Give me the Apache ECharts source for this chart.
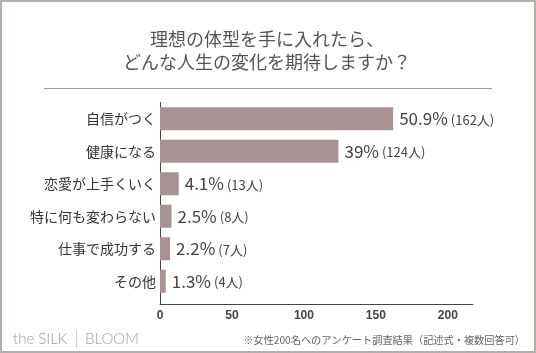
<!DOCTYPE html>
<html>
<head>
<meta charset="utf-8">
<script src="https://cdn.jsdelivr.net/npm/echarts@6/dist/echarts.min.js"></script>
<style>
  html, body { margin: 0; padding: 0; background: #fff; }
  #frame { position: relative; width: 536px; height: 353px; box-sizing: border-box; border: 2px solid #b7aeac; }
  #chart { position: absolute; left: -2px; top: -2px; width: 536px; height: 353px; }
</style>
</head>
<body>
<div id="frame"><div id="chart"></div></div>
<script>
  var categories = ['自信がつく', '健康になる', '恋愛が上手くいく', '特に何も変わらない', '仕事で成功する', 'その他'];
  var counts = [162, 124, 13, 8, 7, 4];
  var percents = ['50.9', '39', '4.1', '2.5', '2.2', '1.3'];
  var xTicks = [0, 50, 100, 150, 200];

  var font = '"Noto Sans CJK JP", "Noto Sans", sans-serif';
  var logoFont = '300 15px Lato, "Open Sans", sans-serif';
  var myChart = echarts.init(document.getElementById('chart'));
  myChart.setOption({
    backgroundColor: 'transparent',
    textStyle: { fontFamily: font },
    graphic: [
      { type: 'text', x: 267, y: 39, style: { text: '理想の体型を手に入れたら、', fill: '#555', font: '18px ' + font, align: 'center', verticalAlign: 'middle' } },
      { type: 'text', x: 267, y: 62, style: { text: 'どんな人生の変化を期待しますか？', fill: '#555', font: '18px ' + font, align: 'center', verticalAlign: 'middle' } },
      { type: 'line', shape: { x1: 44, y1: 88.5, x2: 492, y2: 88.5 }, style: { stroke: '#9a9a9a', lineWidth: 1 } },
      { type: 'text', x: 13, y: 339, style: { text: 'the SILK', fill: '#999', font: logoFont, verticalAlign: 'middle' } },
      { type: 'line', shape: { x1: 76.5, y1: 330, x2: 76.5, y2: 348 }, style: { stroke: '#cfcfcf', lineWidth: 1 } },
      { type: 'text', x: 85, y: 339, style: { text: 'BLOOM', fill: '#a5a5a5', font: logoFont, verticalAlign: 'middle' } },
      { type: 'text', x: 525, y: 340, style: { text: '※女性200名へのアンケート調査結果（記述式・複数回答可）', fill: '#666', font: '10.2px ' + font, align: 'right', verticalAlign: 'middle' } }
    ],
    grid: { left: 160, right: 63, top: 102.5, bottom: 55.5 },
    xAxis: {
      type: 'value',
      min: 0,
      max: 217.5,
      interval: 50,
      offset: 6.5,
      splitLine: { show: false },
      axisLine: { show: true, lineStyle: { color: '#444', width: 1 } },
      axisTick: { show: true, inside: true, length: 7, customValues: [0], lineStyle: { color: '#444' } },
      axisLabel: {
        showMaxLabel: false,
        margin: 6,
        color: '#444',
        fontSize: 12,
        fontWeight: 'bold',
        fontFamily: '"Liberation Sans", Arial, sans-serif',
        formatter: function (v) { return xTicks.indexOf(v) >= 0 ? String(v) : ''; }
      }
    },
    yAxis: {
      type: 'category',
      inverse: true,
      data: categories,
      axisLine: { show: true, lineStyle: { color: '#444', width: 1 } },
      axisTick: { show: false },
      axisLabel: { color: '#333', fontSize: 14, margin: 4 }
    },
    series: [{
      type: 'bar',
      data: counts,
      barWidth: 23,
      itemStyle: { color: '#a79393' },
      label: {
        show: true,
        position: 'right',
        distance: 6,
        formatter: function (p) {
          return '{a|' + percents[p.dataIndex] + '%}{b|(' + counts[p.dataIndex] + '人)}';
        },
        rich: {
          a: { fontSize: 17, color: '#444', fontFamily: font },
          b: { fontSize: 13, color: '#444', fontFamily: font, padding: [2, 0, 0, 3] }
        }
      }
    }]
  });
</script>
</body>
</html>
